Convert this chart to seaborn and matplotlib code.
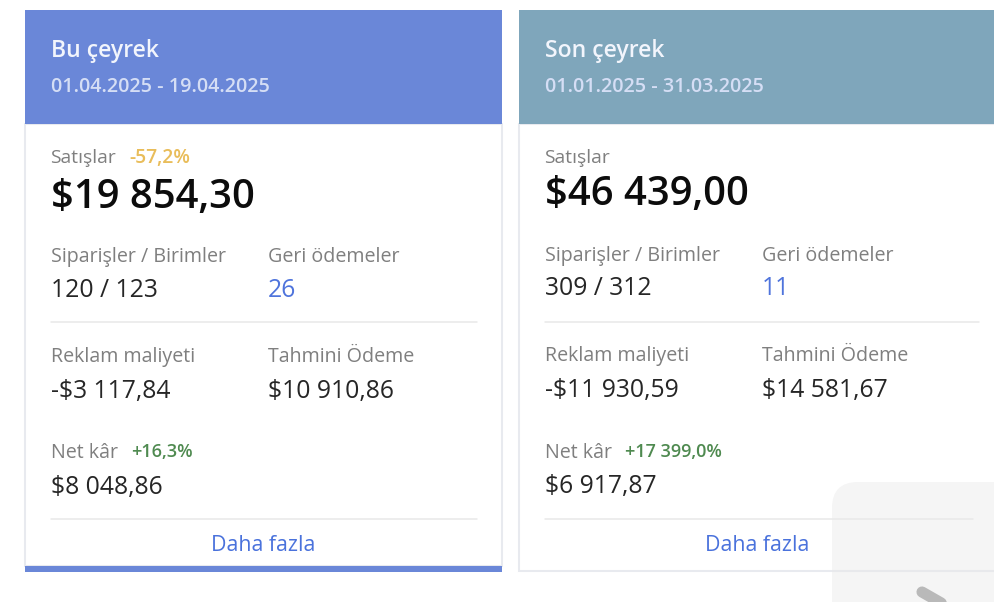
import matplotlib
matplotlib.use("Agg")
import matplotlib.pyplot as plt
from matplotlib.patches import Rectangle, FancyBboxPatch
import seaborn as sns

sns.set_theme(style="white")
plt.rcParams['font.family'] = ['Open Sans', 'DejaVu Sans']

titles = ["Bu çeyrek", "Son çeyrek"]
periods = ["01.04.2025 - 19.04.2025", "01.01.2025 - 31.03.2025"]
sales = ["$19 854,30", "$46 439,00"]
sales_change = ["-57,2%", ""]
orders_units = ["120 / 123", "309 / 312"]
refunds = ["26", "11"]
ad_cost = ["-$3 117,84", "-$11 930,59"]
payout = ["$10 910,86", "$14 581,67"]
net_profit = ["$8 048,86", "$6 917,87"]
profit_change = ["+16,3%", "+17 399,0%"]

fig = plt.figure(figsize=(9.94, 6.02), dpi=100, facecolor="white")
ax = fig.add_axes([0, 0, 1, 1])
ax.set_xlim(0, 994)
ax.set_ylim(602, 0)
ax.axis("off")

BLUE = "#4a72dc"
LAB = "#7f7f7f"
VAL = "#262626"
HEAD = ["#6a87d8", "#7fa6bb"]
CARD_X = [25, 519]
CARD_W = [477, 490]
CARD_B = [566, 571]
DY = [0, -1]
PCT_X = [129, 625]
PROFIT_PCT_X = [131, 625]
RULE_W = [426, 434]


def px(n):
    return n * 0.72


def T(x, y, s, size, color, weight="normal", ha="left"):
    ax.text(x, y, s, fontsize=px(size), color=color, fontweight=weight,
            ha=ha, va="baseline", zorder=4)


for i in range(2):
    x0 = CARD_X[i]
    w = CARD_W[i]
    d = DY[i]
    ax.add_patch(Rectangle((x0, 124), w, CARD_B[i] - 124, fc="white",
                           ec="#e8eaef", lw=1.5, zorder=1))
    ax.add_patch(Rectangle((x0, 10), w, 114, fc=HEAD[i], ec="none", zorder=2))
    if i == 0:
        ax.add_patch(Rectangle((x0, 566), w, 6, fc=HEAD[0], ec="none", zorder=2))
    tx = x0 + 26
    cx = x0 + 243
    T(tx, 57, titles[i], 23, "#f2f5fc", "semibold")
    T(tx, 92, periods[i], 19.8, "#d5def5", "semibold")
    T(tx - 1, 163, "Satışlar", 19.3, LAB)
    if sales_change[i]:
        T(PCT_X[i], 163, sales_change[i], 19.3, "#e9bd5a", "semibold")
    T(tx, 208 + 3 * d, sales[i], 40, "#0c0c0c", "semibold")
    T(tx, 262 + d, "Siparişler / Birimler", 19.7, LAB)
    T(cx, 262 + d, "Geri ödemeler", 19.7, LAB)
    T(tx, 297 + 2 * d, orders_units[i], 24.8, VAL)
    T(cx, 297 + 2 * d, refunds[i], 24.8, "#4f74dc")
    ax.plot([x0 + 26, x0 + 26 + RULE_W[i]], [322, 322], color="#e8e8e8", lw=1.1, zorder=3)
    T(tx, 362 + d, "Reklam maliyeti", 19.7, LAB)
    T(cx, 362 + d, "Tahmini Ödeme", 19.7, LAB)
    T(tx, 398 + d, ad_cost[i], 24.8, VAL)
    T(cx, 398 + d, payout[i], 24.8, VAL)
    T(tx, 458, "Net kâr", 19.7, LAB)
    T(PROFIT_PCT_X[i], 457, profit_change[i], 18, "#4f8a50", "semibold")
    T(tx, 494 + d, net_profit[i], 24.8, VAL)
    ax.plot([x0 + 26, x0 + 26 + RULE_W[i] + (0 if i == 0 else -6)], [519, 519],
            color="#e8e8e8", lw=1.1, zorder=3)
    T(x0 + 238, 551, "Daha fazla", 21.4, BLUE, ha="center")

# Overlay panel and cursor in the lower-right corner
ax.add_patch(FancyBboxPatch((832, 482), 220, 180,
                            boxstyle="round,pad=0,rounding_size=26",
                            fc="#e9e9e9", alpha=0.45, ec="none", zorder=5))
ax.plot([922, 950], [592, 608], color="#b9b9b9", lw=8, solid_capstyle="round", zorder=6)

fig.savefig("out.png", dpi=100)
